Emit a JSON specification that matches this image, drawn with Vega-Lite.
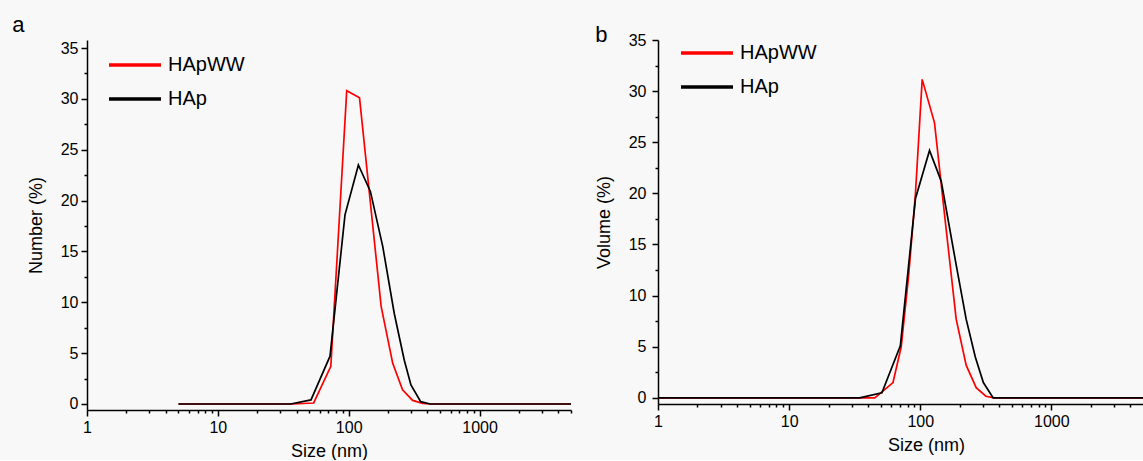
{
  "$schema": "https://vega.github.io/schema/vega-lite/v6.json",
  "background": "#f8f8f8",
  "padding": {"left": 12, "top": 14, "right": 0, "bottom": 0},
  "spacing": 20,
  "config": {
    "view": {"stroke": null},
    "font": "Liberation Sans",
    "axis": {
      "grid": false,
      "domainColor": "#000000",
      "domainWidth": 1.5,
      "tickColor": "#000000",
      "tickWidth": 1.5,
      "labelColor": "#000000",
      "titleColor": "#000000",
      "labelFont": "Liberation Sans",
      "titleFont": "Liberation Sans",
      "titleFontWeight": "normal",
      "labelFontSize": 16,
      "titleFontSize": 18,
      "labelFlush": false,
      "labelOverlap": false
    },
    "legend": {
      "labelFont": "Liberation Sans",
      "labelColor": "#000000"
    }
  },
  "datasets": {
    "number": [
      {"size": 5, "value": 0, "sample": "HApWW"},
      {"size": 37, "value": 0, "sample": "HApWW"},
      {"size": 54, "value": 0.1, "sample": "HApWW"},
      {"size": 73, "value": 3.7, "sample": "HApWW"},
      {"size": 96.6, "value": 30.8, "sample": "HApWW"},
      {"size": 121, "value": 30.1, "sample": "HApWW"},
      {"size": 177, "value": 9.6, "sample": "HApWW"},
      {"size": 217, "value": 4.0, "sample": "HApWW"},
      {"size": 258, "value": 1.4, "sample": "HApWW"},
      {"size": 308, "value": 0.35, "sample": "HApWW"},
      {"size": 367, "value": 0.07, "sample": "HApWW"},
      {"size": 420, "value": 0, "sample": "HApWW"},
      {"size": 5000, "value": 0, "sample": "HApWW"},
      {"size": 5, "value": 0, "sample": "HAp"},
      {"size": 36, "value": 0, "sample": "HAp"},
      {"size": 51.5, "value": 0.4, "sample": "HAp"},
      {"size": 72, "value": 4.7, "sample": "HAp"},
      {"size": 93.7, "value": 18.6, "sample": "HAp"},
      {"size": 118.6, "value": 23.5, "sample": "HAp"},
      {"size": 146.5, "value": 20.9, "sample": "HAp"},
      {"size": 182, "value": 15.5, "sample": "HAp"},
      {"size": 223, "value": 8.9, "sample": "HAp"},
      {"size": 266, "value": 4.3, "sample": "HAp"},
      {"size": 299, "value": 1.87, "sample": "HAp"},
      {"size": 355, "value": 0.23, "sample": "HAp"},
      {"size": 420, "value": 0, "sample": "HAp"},
      {"size": 5000, "value": 0, "sample": "HAp"}
    ],
    "volume": [
      {"size": 1, "value": 0, "sample": "HApWW"},
      {"size": 45, "value": 0, "sample": "HApWW"},
      {"size": 62, "value": 1.5, "sample": "HApWW"},
      {"size": 71.6, "value": 5.0, "sample": "HApWW"},
      {"size": 81.5, "value": 11.9, "sample": "HApWW"},
      {"size": 92, "value": 20.0, "sample": "HApWW"},
      {"size": 103.5, "value": 31.15, "sample": "HApWW"},
      {"size": 128.5, "value": 26.9, "sample": "HApWW"},
      {"size": 157, "value": 16.7, "sample": "HApWW"},
      {"size": 188, "value": 7.7, "sample": "HApWW"},
      {"size": 224, "value": 3.2, "sample": "HApWW"},
      {"size": 267, "value": 1.0, "sample": "HApWW"},
      {"size": 317, "value": 0.16, "sample": "HApWW"},
      {"size": 367, "value": 0, "sample": "HApWW"},
      {"size": 5000, "value": 0, "sample": "HApWW"},
      {"size": 1, "value": 0, "sample": "HAp"},
      {"size": 34.5, "value": 0, "sample": "HAp"},
      {"size": 51, "value": 0.5, "sample": "HAp"},
      {"size": 70.5, "value": 5.1, "sample": "HAp"},
      {"size": 92, "value": 19.5, "sample": "HAp"},
      {"size": 117.7, "value": 24.2, "sample": "HAp"},
      {"size": 144.5, "value": 21.2, "sample": "HAp"},
      {"size": 185, "value": 13.5, "sample": "HAp"},
      {"size": 224, "value": 7.7, "sample": "HAp"},
      {"size": 263, "value": 4.0, "sample": "HAp"},
      {"size": 303, "value": 1.5, "sample": "HAp"},
      {"size": 360, "value": 0, "sample": "HAp"},
      {"size": 5000, "value": 0, "sample": "HAp"}
    ]
  },
  "resolve": {
    "scale": {"x": "independent", "y": "independent", "color": "independent"},
    "legend": {"color": "independent"}
  },
  "hconcat": [
    {
      "width": 484,
      "height": 370,
      "title": {"text": "a", "anchor": "start", "frame": "bounds", "fontSize": 22, "fontWeight": "normal", "font": "Liberation Sans", "color": "#000000", "baseline": "alphabetic", "offset": -14, "dx": -15},
      "data": {"name": "number"},
      "layer": [
        {
          "mark": {"type": "line", "strokeWidth": 1.7},
          "encoding": {
            "x": {"field": "size", "type": "quantitative",
              "scale": {"type": "log", "domain": [1, 5000], "nice": false},
              "axis": {"orient": "bottom", "values": [1, 10, 100, 1000], "format": "d", "tickSize": 6, "labelPadding": 3, "titlePadding": 7, "title": "Size (nm)"}},
            "y": {"field": "value", "type": "quantitative",
              "scale": {"domain": [-0.59, 35.79], "nice": false, "zero": false},
              "axis": {"orient": "left", "values": [0, 5, 10, 15, 20, 25, 30, 35], "format": "d", "tickSize": 6, "labelPadding": 3, "titlePadding": 15, "title": "Number (%)"}},
            "color": {"field": "sample", "type": "nominal",
              "scale": {"domain": ["HApWW", "HAp"], "range": ["#ff0000", "#000000"]},
              "legend": {"orient": "none", "legendX": 20, "legendY": 10, "title": null, "symbolType": "M-1,0H3", "symbolSize": 676, "symbolStrokeWidth": 3.5, "labelFontSize": 20, "labelOffset": 31, "rowPadding": 9, "padding": 0}}
          }
        },
        {
          "mark": {"type": "line", "opacity": 0},
          "encoding": {
            "x": {"field": "size", "type": "quantitative",
              "axis": {"orient": "bottom", "values": [2,3,4,5,6,7,8,9,20,30,40,50,60,70,80,90,200,300,400,500,600,700,800,900,2000,3000,4000,5000], "labels": false, "domain": false, "tickSize": 3, "title": null}},
            "y": {"field": "value", "type": "quantitative",
              "axis": {"orient": "left", "values": [2.5, 7.5, 12.5, 17.5, 22.5, 27.5, 32.5], "labels": false, "domain": false, "tickSize": 3, "title": null}}
          }
        }
      ],
      "resolve": {"axis": {"x": "independent", "y": "independent"}}
    },
    {
      "width": 485,
      "height": 364,
      "title": {"text": "b", "anchor": "start", "frame": "bounds", "fontSize": 22, "fontWeight": "normal", "font": "Liberation Sans", "color": "#000000", "baseline": "alphabetic", "offset": -32, "dx": 0},
      "data": {"name": "volume"},
      "layer": [
        {
          "mark": {"type": "line", "strokeWidth": 1.7},
          "encoding": {
            "x": {"field": "size", "type": "quantitative",
              "scale": {"type": "log", "domain": [1, 5000], "nice": false},
              "axis": {"orient": "bottom", "values": [1, 10, 100, 1000], "format": "d", "tickSize": 6, "labelPadding": 3, "titlePadding": 7, "title": "Size (nm)", "titleX": 268}},
            "y": {"field": "value", "type": "quantitative",
              "scale": {"domain": [-0.6, 35], "nice": false, "zero": false},
              "axis": {"orient": "left", "values": [0, 5, 10, 15, 20, 25, 30, 35], "format": "d", "tickSize": 6, "labelPadding": 6, "titlePadding": 15, "title": "Volume (%)"}},
            "color": {"field": "sample", "type": "nominal",
              "scale": {"domain": ["HApWW", "HAp"], "range": ["#ff0000", "#000000"]},
              "legend": {"orient": "none", "legendX": 21, "legendY": -2, "title": null, "symbolType": "M-1,0H3", "symbolSize": 676, "symbolStrokeWidth": 3.5, "labelFontSize": 20, "labelOffset": 31, "rowPadding": 9, "padding": 0}}
          }
        },
        {
          "mark": {"type": "line", "opacity": 0},
          "encoding": {
            "x": {"field": "size", "type": "quantitative",
              "axis": {"orient": "bottom", "values": [2,3,4,5,6,7,8,9,20,30,40,50,60,70,80,90,200,300,400,500,600,700,800,900,2000,3000,4000], "labels": false, "domain": false, "tickSize": 3, "title": null}},
            "y": {"field": "value", "type": "quantitative",
              "axis": {"orient": "left", "values": [2.5, 7.5, 12.5, 17.5, 22.5, 27.5, 32.5], "labels": false, "domain": false, "tickSize": 3, "title": null}}
          }
        }
      ],
      "resolve": {"axis": {"x": "independent", "y": "independent"}}
    }
  ]
}
